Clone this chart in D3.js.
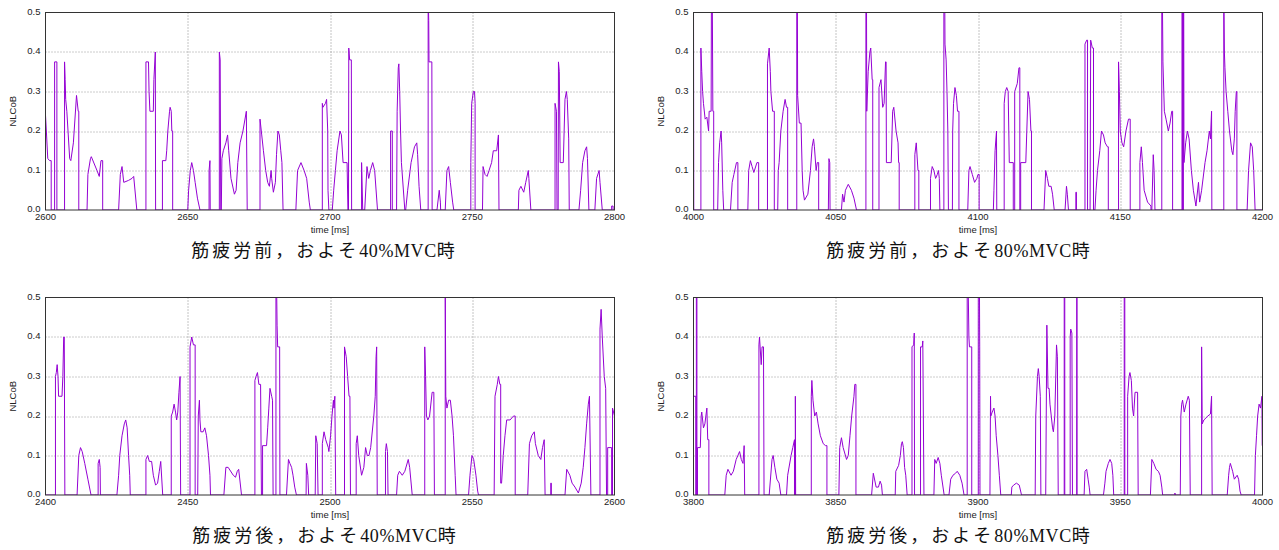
<!DOCTYPE html>
<html>
<head>
<meta charset="utf-8">
<script src="https://cdn.jsdelivr.net/npm/d3@7"></script>
<style>
  body { margin: 0; background: #fff; }
  svg { display: block; }
  .tick-label { font-family: "Liberation Sans", Arial, sans-serif; font-size: 9.5px; fill: #222; }
  .caption { font-family: "Liberation Serif", "Noto Sans CJK JP", serif; font-size: 18px; fill: #111; }
</style>
</head>
<body>
<script>
// NLCoB traces, [time ms, value]; 0.55 = spike off the top of the plot
var pre40 = [
  [2600,0.24],[2600.3,0.2],[2600.8,0.13],[2601.5,0.125],[2602,0.125],[2602,0],
  [2603.2,0],[2603.2,0.375],[2604,0.375],[2604,0],
  [2606.7,0],[2606.7,0.375],[2606.9,0.33],[2607.1,0.28],[2607.5,0.25],[2608,0.19],[2608.5,0.13],[2608.9,0.125],[2609.8,0.17],[2610.9,0.29],[2611.5,0.25],[2611.7,0.25],[2611.7,0],
  [2614.6,0],[2614.9,0.09],[2615.8,0.13],[2616.1,0.135],[2618.1,0.1],[2618.9,0.085],[2619.5,0.125],[2620.1,0.125],[2620.1,0],
  [2625.7,0],[2626.3,0.09],[2626.9,0.11],[2627.5,0.07],[2629.2,0.075],[2630.4,0.08],[2631,0.085],[2632.1,0],
  [2635.3,0],[2635.3,0.375],[2636.2,0.375],[2636.4,0.3],[2636.7,0.25],[2637.9,0.25],[2638.1,0.33],[2638.6,0.4],[2638.7,0],
  [2641.1,0],[2641.1,0.125],[2642.3,0.125],[2642.6,0.15],[2643,0.2],[2643.6,0.25],[2643.8,0.26],[2644.2,0.25],[2644.4,0.2],[2644.7,0.2],[2644.7,0],
  [2650,0],[2650.3,0.05],[2650.9,0.1],[2651.4,0.12],[2652,0.1],[2652.6,0.07],[2653.4,0.03],[2654.3,0],
  [2657.5,0],[2657.5,0.1],[2657.8,0.125],[2657.9,0],
  [2661.1,0],[2661.1,0.4],[2661.4,0.38],[2661.6,0],[2661.8,0],[2662,0.13],[2662.5,0.15],[2663.4,0.17],[2664,0.19],[2664.4,0.15],[2665.2,0.08],[2666.4,0.04],[2667,0.05],[2667.6,0.12],[2668.4,0.17],[2669.4,0.2],[2670.6,0.25],[2670.9,0],
  [2675.4,0],[2675.4,0.23],[2676,0.19],[2676.6,0.15],[2677.4,0.1],[2678.1,0.07],[2678.7,0.06],[2679.3,0.1],[2679.5,0.08],[2680.1,0.045],[2680.8,0.07],[2681.2,0.14],[2681.7,0.2],[2682.2,0.19],[2682.7,0.15],[2683.1,0.12],[2683.5,0],
  [2688,0],[2688.6,0.1],[2689.8,0.12],[2690.9,0.1],[2691.8,0.08],[2692.7,0.02],[2693.1,0],
  [2697.3,0],[2697.3,0.27],[2697.5,0.26],[2698.4,0.27],[2698.8,0.28],[2699.2,0.2],[2699.3,0.05],[2699.6,0],
  [2700.8,0],[2701.3,0.05],[2701.9,0.1],[2702.5,0.15],[2703.5,0.2],[2704,0.19],[2704.6,0.12],[2706,0.12],[2706.3,0],
  [2706.5,0],[2706.6,0.41],[2706.9,0.38],[2707.5,0.38],[2707.6,0],
  [2711.1,0],[2711.1,0.12],[2711.5,0],[2712.2,0],[2713,0.11],[2713.6,0.08],[2714.2,0.1],[2715,0.12],[2715.7,0.1],[2716.7,0],
  [2721.3,0],[2721.3,0.2],[2721.9,0.2],[2721.9,0],[2723.4,0],[2723.6,0.25],[2724,0.36],[2724.2,0.37],[2724.5,0.3],[2724.8,0.2],[2725.1,0.12],[2726.3,0],
  [2726.6,0],[2727.3,0.05],[2728.5,0.12],[2729.7,0.16],[2730.5,0.17],[2730.8,0.14],[2731.3,0.06],[2731.9,0],
  [2734.5,0],[2734.5,0.55],[2734.7,0.48],[2734.8,0.375],[2735.8,0.375],[2735.9,0],
  [2737.6,0],[2738.4,0.05],[2738.8,0.02],[2738.9,0],[2740.5,0],[2741.1,0.1],[2741.7,0.11],[2742.3,0.07],[2743.1,0.02],[2743.5,0],
  [2749.5,0],[2749.5,0.12],[2749.8,0.27],[2750.4,0.3],[2750.8,0.3],[2751,0.27],[2751,0],
  [2753.6,0],[2753.8,0.11],[2754.5,0.09],[2755.2,0.085],[2755.9,0.1],[2756.8,0.12],[2757.4,0.15],[2758.6,0.15],[2759.2,0.19],[2759.4,0],
  [2766.2,0],[2766.4,0.05],[2767.1,0.06],[2768.1,0.045],[2768.8,0.07],[2769.7,0.1],[2769.9,0.08],[2770.6,0],
  [2779.1,0],[2779.1,0.27],[2779.6,0.25],[2779.8,0],[2780.2,0],[2780.3,0.375],[2780.6,0.35],[2780.9,0.12],[2782,0.12],[2782.6,0.28],[2783.1,0.3],[2783.4,0.28],[2783.9,0.18],[2784.1,0],
  [2787.5,0],[2788.1,0.05],[2788.8,0.12],[2789.6,0.15],[2790.2,0.16],[2790.5,0.13],[2791,0],
  [2793.1,0],[2793.7,0.08],[2794.6,0.1],[2794.9,0.07],[2795.7,0],
  [2799,0],[2799,0.01],[2799.5,0.01],[2799.5,0],[2800,0]
];

var pre80 = [
  [4000,0.55],[4000.1,0],
  [4002.6,0],[4002.6,0.41],[4002.9,0.35],[4003.2,0.3],[4003.5,0.27],[4004.1,0.23],[4004.7,0.235],[4005.3,0.2],[4005.5,0.25],[4006.2,0.25],[4006.3,0.55],[4006.6,0.55],[4006.8,0.25],[4007.1,0.25],[4007.1,0],
  [4008.5,0],[4008.8,0.12],[4009.2,0.17],[4009.7,0.2],[4009.9,0.17],[4010.3,0.05],[4010.6,0],
  [4013,0],[4013.6,0.07],[4014.2,0.09],[4015.1,0.12],[4015.6,0.12],[4015.6,0],
  [4019.1,0],[4019.4,0.1],[4020,0.125],[4020.6,0.11],[4021.2,0.095],[4022.3,0.12],[4022.9,0.12],[4022.9,0],
  [4026,0],[4026,0.37],[4026.6,0.41],[4027,0.35],[4027.2,0.3],[4027.8,0.25],[4028.4,0.25],[4028.4,0],
  [4029.6,0],[4029.8,0.1],[4030.1,0.12],[4030.7,0.2],[4031.5,0.25],[4032.2,0.28],[4032.7,0.26],[4033.1,0.26],[4033.1,0],
  [4036.3,0],[4036.3,0.55],[4036.5,0.55],[4036.6,0.29],[4037.2,0.22],[4037.8,0.22],[4038.2,0.1],[4038.5,0.05],[4039,0.025],[4040.2,0.04],[4041.1,0.1],[4041.7,0.16],[4042.2,0.18],[4042.5,0.16],[4043.1,0.1],[4043.5,0.12],[4044,0.12],[4044,0],
  [4047.4,0],[4047.6,0.13],[4047.9,0.12],[4048,0],
  [4052,0],[4052.4,0.04],[4052.9,0.02],[4053.4,0.05],[4054.4,0.065],[4055.5,0.05],[4056.4,0.03],[4057.3,0],
  [4060.6,0],[4060.6,0.55],[4060.8,0.55],[4060.9,0.25],[4061.4,0.35],[4062,0.4],[4062.3,0.41],[4062.8,0.33],[4063,0.33],[4063,0],
  [4065.2,0],[4065.2,0.31],[4065.9,0.33],[4066.5,0.26],[4067,0.27],[4067.5,0.375],[4067.7,0.375],[4067.8,0.12],[4069.5,0.12],[4070,0.25],[4070.4,0.26],[4071.2,0.2],[4071.9,0.17],[4072.1,0.12],[4072.3,0.12],[4072.3,0],
  [4077.8,0],[4077.8,0.14],[4078.3,0.17],[4078.9,0.1],[4079.2,0.1],[4079.2,0],
  [4083.3,0],[4083.3,0.08],[4083.9,0.11],[4084.5,0.1],[4085.1,0.08],[4085.7,0.09],[4086.1,0.1],[4086.4,0.08],[4086.6,0],
  [4088,0],[4088,0.55],[4088.3,0.55],[4088.4,0.42],[4088.8,0.38],[4089.1,0.3],[4089.4,0.2],[4089.6,0],
  [4091,0],[4091.1,0.2],[4091.4,0.27],[4091.9,0.31],[4092.4,0.29],[4092.8,0.25],[4093.3,0.25],[4093.3,0],
  [4096.4,0],[4096.8,0.1],[4097.2,0.11],[4098,0.09],[4098.8,0.07],[4099.6,0.08],[4100,0.09],[4100.4,0.09],[4100.4,0],
  [4105.4,0],[4105.6,0.05],[4106,0.15],[4106.5,0.2],[4106.6,0],
  [4109.2,0],[4109.2,0.27],[4109.6,0.3],[4110.1,0.31],[4110.6,0.3],[4111,0.12],[4112.4,0.12],[4112.4,0],[4112.9,0],[4112.9,0.3],[4113.8,0.32],[4114.4,0.36],[4114.7,0.36],[4114.7,0],[4115,0],[4115,0.12],[4116.8,0.12],[4117.6,0.3],[4118.1,0.28],[4118.6,0.2],[4118.8,0.2],[4118.8,0],
  [4123.2,0],[4123.8,0.1],[4124.4,0.08],[4124.9,0.06],[4125.7,0.06],[4126.2,0.04],[4126.8,0],
  [4130.6,0],[4131.1,0.06],[4131.4,0.04],[4131.8,0],
  [4134.4,0],[4134.4,0.045],[4134.6,0.045],[4134.6,0],
  [4137.6,0],[4137.6,0.42],[4138.2,0.43],[4138.5,0.43],[4138.5,0],[4139.4,0],[4139.6,0.43],[4140.2,0.41],[4140.6,0.41],[4140.6,0],
  [4141.1,0],[4141.5,0.05],[4142,0.1],[4142.8,0.15],[4143.4,0.2],[4144.1,0.19],[4144.7,0.17],[4145.5,0.16],[4145.8,0.16],[4145.8,0],
  [4149.4,0],[4149.4,0.375],[4149.7,0.3],[4150,0.2],[4150.6,0.17],[4151.2,0.16],[4152,0.2],[4152.9,0.23],[4153.5,0.23],[4153.5,0],
  [4156.9,0],[4156.9,0.12],[4157.4,0.16],[4157.8,0.12],[4158.4,0.05],[4159.6,0.02],[4160.8,0.01],[4160.8,0],[4161.1,0],[4161.6,0.14],[4161.9,0.1],[4162.2,0],
  [4164.6,0],[4164.6,0.55],[4164.8,0.55],[4165,0.375],[4165.5,0.25],[4166.1,0.23],[4166.9,0.2],[4167.5,0.22],[4168.1,0.25],[4168.4,0.25],[4168.4,0],
  [4171.7,0],[4171.7,0.55],[4171.9,0.55],[4171.9,0],[4172.2,0],[4172.2,0.55],[4172.3,0.55],[4172.4,0.12],[4173,0.17],[4173.6,0.2],[4174.2,0.18],[4175,0.1],[4175.7,0.05],[4176.6,0.01],[4177.5,0.07],[4177.9,0.02],[4178.6,0.05],[4179.8,0.12],[4180.5,0.15],[4181.3,0.2],[4181.7,0.18],[4182.1,0.25],[4182.2,0],
  [4186.4,0],[4186.4,0.55],[4186.6,0.4],[4186.8,0.36],[4187.2,0.3],[4187.8,0.25],[4188.4,0.2],[4189.2,0.15],[4189.6,0.14],[4190.1,0.18],[4190.4,0.25],[4190.8,0.3],[4191,0.3],[4191,0],
  [4194.6,0],[4195.1,0.1],[4195.8,0.17],[4196.4,0.16],[4196.9,0.1],[4197.4,0],[4200,0]
];

var post40 = [
  [2400,0],[2403.5,0],[2403.5,0.3],[2403.8,0.31],[2404.1,0.33],[2404.4,0.3],[2404.6,0.25],[2405.8,0.25],[2406.1,0.3],[2406.4,0.4],[2406.6,0.4],[2406.7,0.2],[2406.8,0],
  [2411.1,0],[2411.7,0.1],[2412.3,0.12],[2412.9,0.11],[2413.8,0.08],[2414.9,0.04],[2416,0],
  [2418.5,0],[2418.5,0.08],[2418.9,0.09],[2419.2,0.07],[2419.3,0],
  [2425.1,0],[2425.7,0.05],[2426.1,0.1],[2426.9,0.15],[2427.7,0.18],[2428.2,0.19],[2428.7,0.17],[2429.2,0.1],[2429.6,0.05],[2429.8,0],
  [2435.3,0],[2435.3,0.09],[2435.9,0.1],[2436.5,0.085],[2437.3,0.085],[2437.9,0.05],[2438.7,0.025],[2439.4,0.03],[2440,0.06],[2440.5,0.085],[2441.2,0],
  [2444.2,0],[2444.2,0.2],[2444.7,0.21],[2445.2,0.23],[2445.7,0.21],[2446.1,0.19],[2446.5,0.21],[2446.9,0.26],[2447.3,0.3],[2447.5,0],
  [2450.8,0],[2450.8,0.375],[2451.4,0.4],[2452,0.38],[2452.6,0.38],[2452.6,0],
  [2453.5,0],[2453.7,0.2],[2454.1,0.24],[2454.3,0.19],[2454.6,0.16],[2455.4,0.16],[2456,0.17],[2456.6,0.15],[2457.3,0.1],[2457.8,0.05],[2458,0],
  [2462.7,0],[2463.4,0.07],[2464.2,0.07],[2466,0.05],[2466.8,0.045],[2467.4,0.06],[2467.9,0.065],[2468.9,0],
  [2473.6,0],[2473.6,0.29],[2474,0.3],[2474.5,0.31],[2475,0.28],[2475.6,0.28],[2475.9,0],[2476.3,0],[2476.3,0.125],[2477.7,0.125],[2478.1,0.17],[2478.5,0.22],[2478.9,0.27],[2479.5,0.25],[2479.8,0.24],[2480,0],
  [2481,0],[2481,0.55],[2481.2,0.55],[2481.4,0.43],[2481.6,0.375],[2482.3,0.375],[2482.4,0],
  [2484.7,0],[2485.4,0.09],[2485.9,0.08],[2486.5,0.07],[2487,0.05],[2487.6,0.02],[2488.2,0],
  [2491.6,0],[2491.7,0.08],[2492.2,0.05],[2492.5,0],
  [2494.8,0],[2495,0.15],[2495.5,0.13],[2495.8,0],
  [2497.3,0],[2497.3,0.13],[2497.9,0.16],[2498.5,0.14],[2499.4,0.12],[2499.6,0.11],[2500.2,0.15],[2500.7,0.2],[2501.2,0.24],[2501.4,0.22],[2501.7,0.25],[2502,0],
  [2505.1,0],[2505.1,0.375],[2505.7,0.35],[2506.2,0.3],[2506.7,0.25],[2507,0.25],[2507.2,0],
  [2509.2,0],[2509.2,0.13],[2509.6,0.15],[2510.1,0.1],[2511.1,0.05],[2511.9,0.07],[2512.5,0.12],[2513.1,0.1],[2513.7,0.1],[2514.3,0.12],[2515.4,0.2],[2515.9,0.25],[2516.2,0.35],[2516.4,0.375],[2516.6,0],
  [2519.5,0],[2519.5,0.11],[2519.8,0.13],[2520.2,0.11],[2520.4,0],
  [2523.4,0],[2523.8,0.05],[2524.4,0.06],[2525.4,0.05],[2526.3,0.06],[2527.5,0.09],[2528,0.07],[2528.9,0],
  [2533.3,0],[2533.3,0.375],[2533.6,0.3],[2533.9,0.2],[2534.4,0.19],[2535,0.2],[2535.9,0.26],[2536.5,0.26],[2536.7,0],
  [2540.5,0],[2540.5,0.55],[2540.7,0.25],[2541.1,0.22],[2541.7,0.24],[2542.3,0.24],[2542.9,0.2],[2543.4,0.15],[2544,0.05],[2544.3,0],
  [2548.7,0],[2549.2,0.05],[2549.9,0.1],[2550.5,0.09],[2551.3,0.05],[2551.9,0.01],[2552.2,0],
  [2557.7,0],[2558,0.25],[2558.8,0.28],[2559.2,0.3],[2559.7,0.28],[2560,0.28],[2560,0.03],[2560.3,0.03],[2560.9,0.1],[2561.5,0.15],[2562.1,0.19],[2563.3,0.19],[2564.5,0.2],[2565.1,0.2],[2565.1,0],
  [2569.5,0],[2570.1,0.13],[2570.9,0.15],[2571.8,0.16],[2572.2,0.13],[2573.2,0.1],[2574.1,0.09],[2574.7,0.12],[2575.3,0.14],[2575.6,0],
  [2577.6,0],[2577.6,0.03],[2577.8,0.03],[2577.8,0],
  [2582.6,0],[2583.2,0.065],[2584.3,0.05],[2585.1,0.03],[2586.1,0.02],[2586.9,0.01],[2587.3,0.005],[2588.3,0.03],[2589,0.07],[2589.6,0.12],[2590.2,0.18],[2590.8,0.23],[2591.2,0.25],[2591.7,0],
  [2594.9,0],[2594.9,0.42],[2595.3,0.47],[2595.7,0.4],[2596.4,0.3],[2596.9,0.27],[2597.2,0],[2597.6,0],[2597.6,0.12],[2599,0.12],[2599,0],[2599.3,0],[2599.3,0.22],[2600,0.2]
];

var post80 = [
  [3800,0.25],[3800.8,0.25],[3800.8,0],[3801,0],[3801,0.55],[3801.2,0.55],[3801.2,0],
  [3801.4,0],[3801.4,0.12],[3802.4,0.12],[3802.7,0.2],[3802.9,0.21],[3803.5,0.17],[3804,0.18],[3804.7,0.22],[3805,0.14],[3805.4,0.14],[3805.4,0],
  [3811,0],[3811.5,0.05],[3812.1,0.065],[3813.2,0.05],[3814,0.06],[3815,0.09],[3816.2,0.11],[3816.8,0.09],[3817.4,0.08],[3817.8,0.125],[3818,0],
  [3823,0],[3823,0.38],[3823.2,0.4],[3823.8,0.33],[3824.1,0.375],[3824.6,0.375],[3824.8,0],
  [3826.6,0],[3827.6,0.09],[3828,0.1],[3828.6,0.07],[3829.3,0.04],[3830.1,0.03],[3830.7,0],
  [3832.7,0],[3833.1,0.05],[3834.3,0.1],[3834.9,0.12],[3835.5,0.14],[3835.5,0],[3835.8,0],[3835.8,0.25],[3835.9,0],
  [3841.4,0],[3841.4,0.25],[3841.6,0.29],[3842,0.24],[3842.6,0.2],[3843.2,0.21],[3843.8,0.18],[3844.6,0.15],[3845.6,0.13],[3846.4,0.125],[3846.9,0.125],[3846.9,0],
  [3851.1,0],[3851.4,0.12],[3852,0.145],[3852.6,0.12],[3853.8,0.09],[3854.4,0.1],[3855,0.15],[3855.6,0.2],[3856.4,0.25],[3856.7,0.28],[3857.1,0.28],[3857.1,0],
  [3862.6,0],[3863.2,0.055],[3864.2,0.02],[3865,0.02],[3865.6,0.035],[3866.1,0.025],[3866.4,0],
  [3870.9,0],[3871.1,0.06],[3872.1,0.075],[3872.7,0.1],[3873.1,0.13],[3873.4,0.135],[3873.8,0.12],[3874.2,0.07],[3874.6,0.05],[3875.1,0],
  [3876.8,0],[3876.8,0.375],[3877.4,0.38],[3877.6,0.41],[3877.7,0],
  [3879.8,0],[3879.8,0.375],[3880.4,0.375],[3880.6,0.39],[3881,0],
  [3884.5,0],[3884.8,0.09],[3885.3,0.08],[3886,0.095],[3886.6,0.08],[3887.1,0.05],[3888.1,0],
  [3889.8,0],[3890.4,0.04],[3891.2,0.05],[3892.1,0.055],[3892.7,0.06],[3893.6,0.05],[3894.4,0.03],[3895.1,0],
  [3896.2,0],[3896.2,0.55],[3896.5,0.55],[3896.8,0.4],[3897,0.375],[3897.8,0.375],[3897.8,0],
  [3900.1,0],[3900.1,0.55],[3900.5,0.55],[3900.6,0.375],[3900.7,0],
  [3904.2,0],[3904.4,0.25],[3904.5,0.2],[3905,0.21],[3905.6,0.22],[3906,0.2],[3906.4,0.15],[3907,0.1],[3907.5,0.05],[3908,0],
  [3911.7,0],[3911.9,0.02],[3912.5,0.025],[3913.5,0.03],[3914.5,0.025],[3915.3,0],
  [3920.1,0],[3920.3,0.2],[3920.9,0.3],[3921.2,0.32],[3921.5,0.3],[3921.9,0.25],[3922.1,0],
  [3923.8,0],[3924.2,0.43],[3924.6,0.27],[3925,0.27],[3925.3,0.23],[3926.2,0.17],[3926.5,0.16],[3927,0.2],[3927.6,0.38],[3927.9,0.35],[3928.2,0],
  [3930.3,0],[3930.3,0.55],[3930.5,0.55],[3930.5,0],
  [3932.4,0],[3932.4,0.4],[3932.6,0.42],[3933,0.41],[3933.2,0],
  [3934.7,0],[3934.7,0.55],[3934.8,0.55],[3934.8,0],
  [3937.3,0],[3937.6,0.06],[3938.2,0.065],[3938.7,0.04],[3939.1,0.02],[3939.4,0],
  [3944.1,0],[3944.6,0.03],[3945,0.06],[3945.8,0.08],[3946.4,0.09],[3947,0.08],[3947.4,0.05],[3947.7,0],
  [3951.4,0],[3951.4,0.55],[3951.6,0.55],[3951.6,0],
  [3952.6,0],[3952.6,0.25],[3953.1,0.3],[3953.4,0.31],[3953.9,0.29],[3954.3,0.22],[3954.7,0.2],[3955.2,0.26],[3956.1,0.26],[3956.3,0],
  [3960.6,0],[3961.1,0.09],[3961.8,0.08],[3962.6,0.065],[3963.4,0.06],[3964,0.05],[3964.6,0.02],[3964.9,0],
  [3969.2,0],[3969.2,0.005],[3969.4,0],
  [3971.1,0],[3971.3,0.2],[3971.6,0.23],[3971.9,0.24],[3972.5,0.21],[3973.1,0.23],[3973.9,0.25],[3974.3,0.24],[3974.6,0],
  [3978.6,0],[3978.6,0.375],[3978.8,0.18],[3979.4,0.19],[3980.8,0.2],[3981.7,0.205],[3982.1,0.25],[3982.3,0],
  [3987.6,0],[3988.1,0.05],[3988.4,0.07],[3988.7,0.08],[3989.5,0.06],[3990.1,0.04],[3991.1,0.05],[3991.6,0.04],[3992.1,0.01],[3992.5,0],
  [3997.2,0],[3997.5,0.1],[3997.9,0.15],[3998.3,0.2],[3998.8,0.23],[3999.3,0.22],[3999.8,0.25],[3999.9,0.125],[4000,0.125]
];

var yTicks = [0, 0.1, 0.2, 0.3, 0.4, 0.5];
var xDomains = [[2600, 2800], [4000, 4200], [2400, 2600], [3800, 4000]];
// caption pieces: kana/kanji head, latin middle, kanji tail
var captionHeads = ["筋疲労前，およそ", "筋疲労前，およそ", "筋疲労後，およそ", "筋疲労後，およそ"];
var captionMids = ["40%MVC", "80%MVC", "40%MVC", "80%MVC"];
var captionTail = "時";

var width = 1279, height = 550;
var plotW = 569, plotH = 197.5;

var svg = d3.select("body")
    .append("svg")
    .attr("width", width)
    .attr("height", height);

var panels = [
  { data: pre40,  left: 45.5,  top: 12.5, capX: 323 },
  { data: pre80,  left: 693.5, top: 12.5, capX: 958 },
  { data: post40, left: 45.5,  top: 297.5, capX: 324 },
  { data: post80, left: 693.5, top: 297.5, capX: 958 }
];

panels.forEach(function (p, i) {
    drawPanel(p, xDomains[i], i);
});

function drawPanel(p, domain, i) {
    var x = d3.scaleLinear().domain(domain).range([0, plotW]);
    var y = d3.scaleLinear().domain([0, 0.5]).range([plotH, 0]);

    var g = svg.append("g")
        .attr("transform", "translate(" + p.left + "," + p.top + ")");

    g.append("clipPath")
        .attr("id", "clip" + i)
        .append("rect")
        .attr("width", plotW)
        .attr("height", plotH);

    // dotted grid
    var xTicks = x.ticks(4);
    g.append("g").selectAll("line")
        .data(xTicks.slice(1, -1))
        .enter().append("line")
        .attr("x1", function (d) { return Math.round(x(d)) + 0.5; })
        .attr("x2", function (d) { return Math.round(x(d)) + 0.5; })
        .attr("y1", 0)
        .attr("y2", plotH)
        .style("stroke", "#888")
        .style("stroke-dasharray", "1,2");

    g.append("g").selectAll("line")
        .data(yTicks.slice(1, -1))
        .enter().append("line")
        .attr("x1", 0)
        .attr("x2", plotW)
        .attr("y1", function (d) { return Math.round(y(d)) + 0.5; })
        .attr("y2", function (d) { return Math.round(y(d)) + 0.5; })
        .style("stroke", "#999")
        .style("stroke-dasharray", "1,2");

    var line = d3.line()
        .x(function (d) { return x(d[0]); })
        .y(function (d) { return y(d[1]); });

    g.append("path")
        .datum(p.data)
        .attr("clip-path", "url(#clip" + i + ")")
        .attr("d", line)
        .style("fill", "none")
        .style("stroke", "#9400d3")
        .style("stroke-width", 1);

    g.append("rect")
        .attr("width", plotW)
        .attr("height", plotH)
        .style("fill", "none")
        .style("stroke", "#333")
        .style("stroke-width", 1);

    // tick labels
    g.append("g").selectAll("text")
        .data(yTicks)
        .enter().append("text")
        .attr("class", "tick-label")
        .attr("x", -5)
        .attr("y", function (d) { return y(d) + 2.3; })
        .attr("text-anchor", "end")
        .text(d3.format(".1f"));

    g.append("g").selectAll("text")
        .data(xTicks)
        .enter().append("text")
        .attr("class", "tick-label")
        .attr("x", function (d) { return x(d); })
        .attr("y", plotH + 10.3)
        .attr("text-anchor", "middle")
        .text(function (d) { return d; });

    g.append("text")
        .attr("class", "tick-label")
        .attr("x", plotW / 2)
        .attr("y", plotH + 23)
        .attr("text-anchor", "middle")
        .text("time [ms]");

    g.append("text")
        .attr("class", "tick-label")
        .attr("transform", "translate(" + (-29.5) + "," + (plotH / 2) + ") rotate(-90)")
        .attr("text-anchor", "middle")
        .text("NLCoB");

    var cap = svg.append("text")
        .attr("class", "caption")
        .attr("x", p.capX)
        .attr("y", p.top + 244)
        .attr("text-anchor", "middle");

    cap.append("tspan")
        .style("letter-spacing", "3px")
        .text(captionHeads[i]);
    cap.append("tspan")
        .style("letter-spacing", "0.6px")
        .text(captionMids[i]);
    cap.append("tspan")
        .text(captionTail);
}
</script>
</body>
</html>
